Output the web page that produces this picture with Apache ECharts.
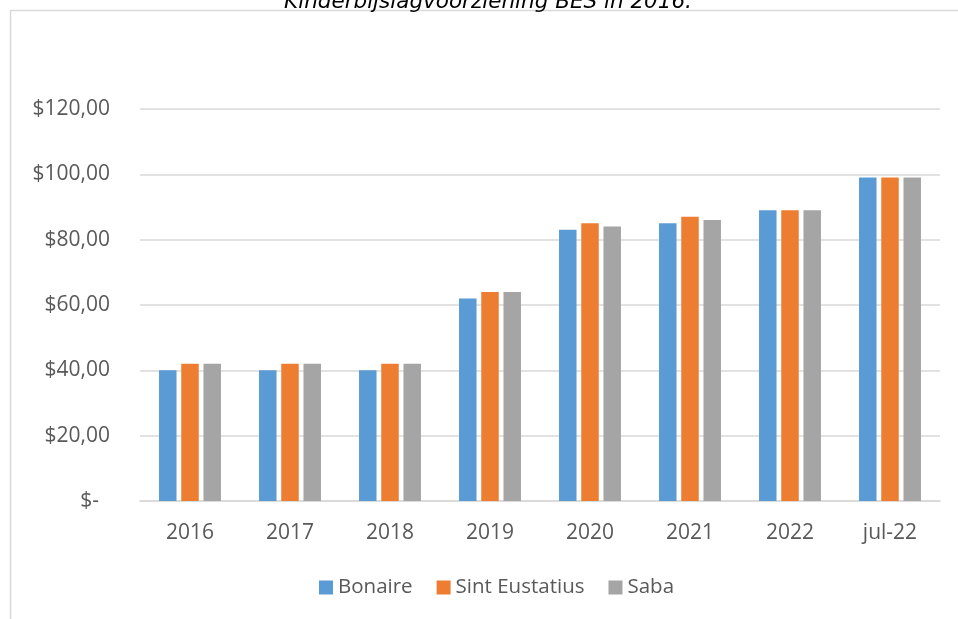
<!DOCTYPE html>
<html>
<head>
<meta charset="utf-8">
<script src="https://cdn.jsdelivr.net/npm/echarts@6/dist/echarts.min.js"></script>
<style>
  html, body { margin: 0; padding: 0; background: #fff; }
</style>
</head>
<body>
<div id="chart" style="width: 958px; height: 619px;"></div>
<script>
// data
const years = ['2016', '2017', '2018', '2019', '2020', '2021', '2022', 'jul-22']
const bonaire = [40, 40, 40, 62, 83, 85, 89, 99]
const sintEustatius = [42, 42, 42, 64, 85, 87, 89, 99]
const saba = [42, 42, 42, 64, 84, 86, 89, 99]
const yTickLabels = ['$-  ', '$20,00', '$40,00', '$60,00', '$80,00', '$100,00', '$120,00']

const chart = echarts.init(document.getElementById('chart'))
const txt = '#595959'
const font = '"Open Sans", sans-serif'

const bar = (name, data, color) => ({
  name,
  type: 'bar',
  data,
  barWidth: 17.5,
  barGap: '27%',
  itemStyle: { color },
  emphasis: { disabled: true }
})

chart.setOption({
  animation: false,
  textStyle: { fontFamily: font },
  graphic: [
    // outer chart border (clipped by the window on right and bottom)
    {
      type: 'rect',
      shape: { x: 10.5, y: 10.5, width: 1200, height: 900 },
      style: { fill: 'none', stroke: '#d9d9d9', lineWidth: 1.5 },
      silent: true
    },
    // title, mostly cut off at the top
    {
      type: 'text',
      x: 488,
      y: 13,
      style: {
        text: 'Kinderbijslagvoorziening BES in 2016.',
        align: 'center',
        verticalAlign: 'bottom',
        font: 'italic 21.5px "DejaVu Sans", sans-serif',
        fill: '#000'
      },
      silent: true
    }
  ],
  grid: { left: 140, right: 18, top: 109, bottom: 118, containLabel: false },
  legend: {
    left: 314,
    top: 572,
    icon: 'rect',
    itemWidth: 14,
    itemHeight: 14,
    itemGap: 24,
    textStyle: { color: txt, fontSize: 20.5, fontFamily: font }
  },
  xAxis: {
    type: 'category',
    data: years,
    axisLine: { lineStyle: { color: '#d9d9d9', width: 1.5 } },
    axisTick: { show: false },
    axisLabel: { color: txt, fontSize: 21, margin: 22 }
  },
  yAxis: {
    type: 'value',
    min: 0,
    max: 120,
    interval: 20,
    axisLine: { show: false },
    axisTick: { show: false },
    splitLine: { lineStyle: { color: '#d9d9d9', width: 1.5 } },
    axisLabel: {
      color: txt,
      fontSize: 21,
      margin: 30,
      formatter: v => yTickLabels[v / 20]
    }
  },
  series: [
    bar('Bonaire', bonaire, '#5b9bd5'),
    bar('Sint Eustatius', sintEustatius, '#ed7d31'),
    bar('Saba', saba, '#a5a5a5')
  ]
})
</script>
</body>
</html>
